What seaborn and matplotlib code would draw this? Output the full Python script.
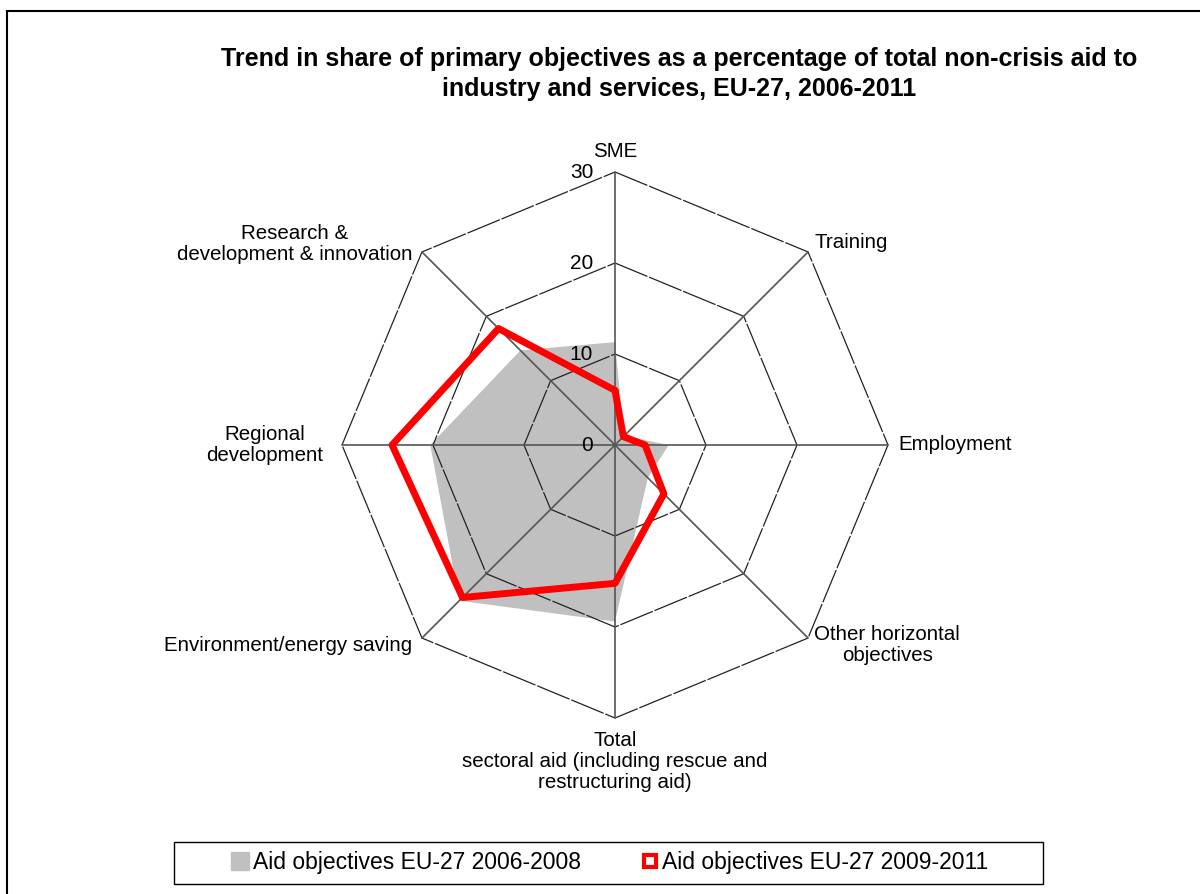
"""
Radar chart: trend in share of primary objectives as a percentage of total
non-crisis aid to industry and services, EU-27, 2006-2011.
"""
import numpy as np
import pandas as pd
import matplotlib
matplotlib.use('Agg')
import matplotlib.pyplot as plt
from matplotlib.lines import Line2D
from matplotlib.patches import Rectangle
import seaborn as sns

# categories clockwise from the top
categories = ['SME', 'Training', 'Employment', 'Other horizontal\nobjectives',
              'Total\nsectoral aid (including rescue and\nrestructuring aid)',
              'Environment/energy saving', 'Regional\ndevelopment',
              'Research &\ndevelopment & innovation']
aid_2006_2008 = [11.3, 1.4, 5.9, 5.1, 19.4, 24.2, 20.3, 14.7]
aid_2009_2011 = [6.0, 1.3, 3.3, 7.6, 15.2, 23.7, 24.5, 18.1]
ring_levels = [10, 20, 30]
tick_labels = ['0', '10', '20', '30']
series_names = ['Aid objectives EU-27 2006-2008', 'Aid objectives EU-27 2009-2011']

GRAY = '#C0C0C0'
RED = '#FF0000'


def to_xy(values):
    n = len(values)
    theta = np.deg2rad(90 - 360 / n * np.arange(n))
    v = np.asarray(values, dtype=float)
    x, y = v * np.cos(theta), v * np.sin(theta)
    return np.append(x, x[0]), np.append(y, y[0])


def plot_radar():
    sns.set_style('white')
    plt.rcParams['font.family'] = ['Liberation Sans', 'DejaVu Sans']
    plt.rcParams['text.color'] = 'black'

    W, H = 1200, 894
    fig = plt.figure(figsize=(W / 100, H / 100), dpi=100)
    # centre of the web at (615, 445) px, 30 units = 273 px
    unit = 273 / 30
    L = 45
    side = 2 * L * unit
    ax = fig.add_axes([(615 - side / 2) / W, (H - 445 - side / 2) / H, side / W, side / H])
    ax.set_xlim(-L, L)
    ax.set_ylim(-L, L)
    ax.set_aspect('equal')
    ax.axis('off')

    n = len(categories)
    rmax = ring_levels[-1]

    # series 1: filled area
    gx, gy = to_xy(aid_2006_2008)
    ax.fill(gx, gy, color=GRAY, lw=0, zorder=1)

    # octagonal rings and spokes
    for r in ring_levels:
        rx, ry = to_xy([r] * n)
        ax.plot(rx, ry, color='#222222', lw=0.9, ls=(0, (28, 1.5)), zorder=2)
    sx, sy = to_xy([rmax] * n)
    for i in range(n):
        ax.plot([0, sx[i]], [0, sy[i]], color='#555555', lw=1.2, zorder=2)

    # series 2: thick red line
    rx, ry = to_xy(aid_2009_2011)
    df = pd.DataFrame({'x': rx, 'y': ry})
    sns.lineplot(data=df, x='x', y='y', sort=False, estimator=None, color=RED,
                 lw=5, ax=ax, zorder=3)
    ax.set_xlabel('')
    ax.set_ylabel('')

    # radial tick labels
    for i, lab in enumerate(tick_labels):
        ax.text(-2.4, i * 10 - 0.1, lab, ha='right', va='center', fontsize=15)

    # category labels
    fs = 14.8
    ax.text(0, 32.2, categories[0], ha='center', va='center', fontsize=fs)
    ax.text(21.9, 22.2, categories[1], ha='left', va='center', fontsize=fs)
    ax.text(31.1, 0, categories[2], ha='left', va='center', fontsize=fs)
    ax.text(29.9, -22.0, categories[3], ha='center', va='center', fontsize=fs,
            linespacing=1.15)
    ax.text(0, -31.4, categories[4], ha='center', va='top', fontsize=fs,
            linespacing=1.15)
    ax.text(-22.3, -22.0, categories[5], ha='right', va='center', fontsize=fs)
    ax.text(-32.1, 0, categories[6], ha='right', va='center', fontsize=fs,
            multialignment='center', linespacing=1.15)
    ax.text(-22.3, 22.1, categories[7], ha='right', va='center', fontsize=fs,
            multialignment='center', linespacing=1.15)

    # title
    fig.text(679 / W, 1 - 74 / H,
             'Trend in share of primary objectives as a percentage of total non-crisis aid to\n'
             'industry and services, EU-27, 2006-2011',
             ha='center', va='center', fontsize=18, fontweight='bold', linespacing=1.3)

    # legend with its own frame
    handles = [Line2D([], [], ls='none', marker='s', ms=13, mfc=GRAY, mec=GRAY),
               Line2D([], [], ls='none', marker='s', ms=8, mfc='white', mec=RED, mew=3)]
    fig.legend(handles, series_names, loc='center', bbox_to_anchor=(610 / W, 1 - 863 / H),
               ncol=2, frameon=False, fontsize=16.5, handlelength=0.8, handleheight=0.8,
               handletextpad=0.15, columnspacing=2.6)
    fig.add_artist(Rectangle((174 / W, 1 - 884 / H), 869 / W, 42 / H, transform=fig.transFigure,
                             fill=False, edgecolor='black', lw=1))

    # outer chart border
    fig.add_artist(Rectangle((7 / W, -0.05), 1.1, 1 - 11 / H + 0.05, transform=fig.transFigure,
                             fill=False, edgecolor='black', lw=1.5))

    fig.savefig('out.png', dpi=100)


def main():
    plot_radar()


if __name__ == '__main__':
    main()
